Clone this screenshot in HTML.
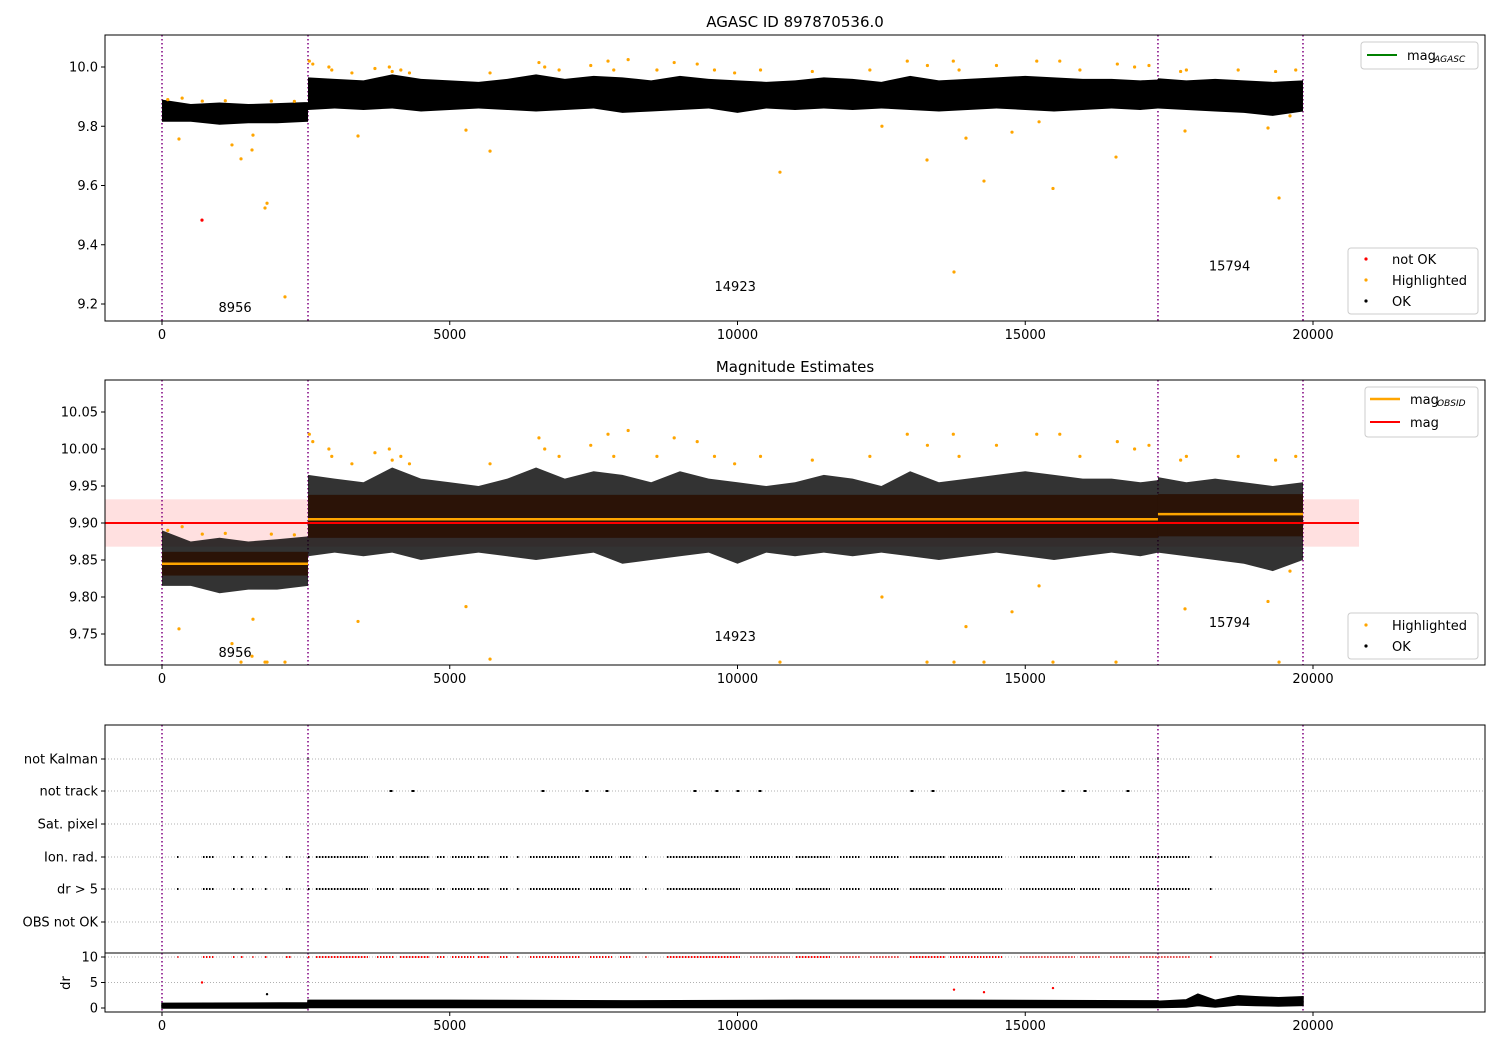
<!DOCTYPE html>
<html><head><meta charset="utf-8"><style>
body{margin:0;background:#fff}
svg{display:block;font-family:"DejaVu Sans","Liberation Sans",sans-serif}
</style></head><body>
<svg id="c" width="1500" height="1050" viewBox="0 0 1500 1050" xmlns="http://www.w3.org/2000/svg"></svg>
<script>
// ---- data ----
const obsBounds = [0, 2537, 17306, 19826];
const obsIds = ["8956", "14923", "15794"];
const obsMag = [9.845, 9.905, 9.912];
const obsStdLo = [9.829, 9.880, 9.882];
const obsStdHi = [9.861, 9.938, 9.939];
const magMean = 9.900;
const magLo = 9.868, magHi = 9.932;
const envX = [0,500,1000,1500,2000,2537, 2537,3000,3500,4000,4500,5000,5500,6000,6500,7000,7500,8000,8500,9000,9500,10000,10500,11000,11500,12000,12500,13000,13500,14000,14500,15000,15500,16000,16500,17000,17306, 17306,17800,18300,18800,19300,19826];
const envHi = [9.89,9.875,9.88,9.875,9.878,9.882, 9.965,9.96,9.955,9.975,9.96,9.955,9.95,9.96,9.975,9.96,9.97,9.965,9.955,9.97,9.96,9.955,9.95,9.955,9.965,9.96,9.95,9.97,9.955,9.96,9.965,9.97,9.965,9.96,9.96,9.955,9.958, 9.962,9.955,9.96,9.955,9.95,9.955];
const envLo = [9.815,9.815,9.805,9.81,9.81,9.815, 9.855,9.86,9.855,9.86,9.85,9.855,9.86,9.855,9.85,9.855,9.86,9.845,9.85,9.855,9.86,9.845,9.86,9.855,9.86,9.855,9.86,9.855,9.85,9.855,9.86,9.855,9.85,9.855,9.86,9.855,9.86, 9.86,9.855,9.85,9.845,9.835,9.85];
const hlX = [100,350,700,1100,1900,2300,2560,2620,2900,2950,3300,3700,3950,4000,4150,4300,5700,6550,6650,6900,7450,7750,7850,8100,8600,8900,9300,9600,9950,10400,11300,12300,12950,13300,13750,13850,14500,15200,15600,15950,16600,16900,17150,17700,17800,18700,19350,19700,
 295,1216,1373,1564,1581,1790,1825,2137,3406,5282,5700,10738,12510,13293,13762,13970,14283,14770,15240,15482,16577,17776,19218,19410,19600];
const hlMag = [9.89,9.895,9.885,9.886,9.885,9.884,10.02,10.01,10.0,9.99,9.98,9.995,10.0,9.985,9.99,9.98,9.98,10.015,10.0,9.99,10.005,10.02,9.99,10.025,9.99,10.015,10.01,9.99,9.98,9.99,9.985,9.99,10.02,10.005,10.02,9.99,10.005,10.02,10.02,9.99,10.01,10.0,10.005,9.985,9.99,9.99,9.985,9.99,
 9.757,9.737,9.69,9.72,9.77,9.524,9.54,9.224,9.767,9.787,9.716,9.645,9.80,9.686,9.308,9.76,9.615,9.78,9.815,9.59,9.696,9.784,9.794,9.558,9.835];
const notOkX = [695];
const notOkMag = [9.483];
const flagRanges = [[261,261],[712,921],[1234,1234],[1373,1373],[1564,1564],[1790,1790],[2155,2242],[2537,2537],[2676,3579],[3736,4049],[4135,4657],[4778,4917],[5039,5421],[5491,5699],[5873,6029],[6168,6168],[6394,7263],[7437,7819],[7958,8167],[8393,8393],[8775,10043],[10217,10912],[11016,11607],[11781,12128],[12302,12823],[12997,13605],[13692,14596],[14908,15864],[15951,16299],[16472,16820],[16993,17863],[18210,18210]];
const notTrackX = [3979,4361,6620,7385,7732,9261,9643,10008,10391,13032,13397,15656,16038,16785];
const categories = ["not Kalman","not track","Sat. pixel","Ion. rad.","dr > 5","OBS not OK"];
const drX = [0,2537,2537,5000,8000,11000,14000,17306,17306,17800,18000,18300,18700,19000,19400,19826];
const drHi = [0.9,1.0,1.5,1.5,1.4,1.5,1.5,1.4,1.3,1.6,2.7,1.5,2.4,2.2,2.0,2.2];
const drLo = [0,0,0.1,0.1,0.1,0.1,0.1,0.1,0.1,0.2,0.5,0.2,0.6,0.5,0.4,0.5];
const drOutX = [695,13762,14283,15482,1825];
const drOutV = [5.0,3.6,3.1,3.9,2.7];
const xTicks = [0,5000,10000,15000,20000];
const y1Ticks = [9.2,9.4,9.6,9.8,10.0];
const y2Ticks = [9.75,9.80,9.85,9.90,9.95,10.00,10.05];
const drTicks = [0,5,10];

// ---- scales ----
const L=105,R=1485;
const X=d=>162+d*0.05755;
const Y1=m=>67+(10-m)*296.25;
const Y2=m=>412+(10.05-m)*740;
const YD=v=>1008-v*5.1;
const catY=[759,791,824,857,889,922];
const svg=document.getElementById('c');
const NS='http://www.w3.org/2000/svg';
function mk(tag,at,parent,txt){const e=document.createElementNS(NS,tag);for(const k in at)e.setAttribute(k,at[k]);if(txt!==undefined)e.textContent=txt;(parent||svg).appendChild(e);return e;}

function clip(id,t,b){const d=mk('clipPath',{id:id});mk('rect',{x:L,y:t,width:R-L,height:b-t},d);}
clip('c1',35,321);clip('c2',380,665);clip('c3',953,1012);

function xAxis(bottom){
  xTicks.forEach(t=>{const g=mk('g',{});
    mk('line',{x1:X(t),x2:X(t),y1:bottom,y2:bottom+4,stroke:'#000'},g);
    mk('text',{x:X(t),y:bottom+18,'font-size':13,'text-anchor':'middle'},g,String(t));});
}
function yAxis(ticks,f,fmt){
  ticks.forEach(t=>{const g=mk('g',{});
    mk('line',{x1:L-4,x2:L,y1:f(t),y2:f(t),stroke:'#000'},g);
    mk('text',{x:L-7,y:f(t)+4.5,'font-size':13,'text-anchor':'end'},g,fmt(t));});
}
function vlines(t,b,g){obsBounds.forEach(d=>{const l=mk('line',{x1:X(d),x2:X(d),y1:t,y2:b,stroke:'#800080','stroke-width':1.5,'stroke-dasharray':'1.5,2.5'},g);});}
function envPath(f){let s='';for(let seg=0;seg<3;seg++){const idx=envX.map((x,i)=>i).filter(i=>envX[i]>=obsBounds[seg]&&envX[i]<=obsBounds[seg+1]&&(seg==0?i<6:seg==1?(i>=6&&i<37):i>=37));
  s+='M'+idx.map(i=>X(envX[i])+','+f(envHi[i])).join('L')+'L'+idx.slice().reverse().map(i=>X(envX[i])+','+f(envLo[i])).join('L')+'Z';}return s;}
function points(xs,ms,f,col,g,name){xs.forEach((x,i)=>{const c=mk('circle',{cx:X(x),cy:f(ms[i]),r:1.6,fill:col},g);});}
function frame(t,b,name){const r=mk('rect',{x:L,y:t,width:R-L,height:b-t,fill:'none',stroke:'#000','stroke-width':1});}
function legendBox(x,y,w,h){const r=mk('rect',{x:x,y:y,width:w,height:h,rx:3,fill:'#fff',stroke:'#ccc','fill-opacity':0.85});}

// ---- panel 1 ----
mk('text',{x:795,y:27,'font-size':15,'text-anchor':'middle',},null,'AGASC ID 897870536.0');
const g1=mk('g',{'clip-path':'url(#c1)',});
vlines(35,321,g1);
const e1=mk('path',{d:envPath(Y1),fill:'#000'},g1);
points(hlX,hlMag,Y1,'#ffa500',g1,'highlighted-point');
points(notOkX,notOkMag,Y1,'#ff0000',g1,'not-ok-point');
obsIds.forEach((t,i)=>{const yy=[9.19,9.26,9.33][i];mk('text',{x:X([1270,9960,18550][i]),y:Y1(yy)+5,'font-size':13,'text-anchor':'middle',},g1,t);});
frame(35,321,'axes-agasc');xAxis(321);yAxis(y1Ticks,Y1,t=>t.toFixed(1));
legendBox(1361,42,117,27);
mk('line',{x1:1367,x2:1397,y1:55,y2:55,stroke:'green','stroke-width':2,});
mk('text',{x:1407,y:60,'font-size':13},null,'mag');
mk('text',{x:1434,y:62,'font-size':9,'font-style':'italic'},null,'AGASC');
legendBox(1348,248,130,66);
[['#ff0000','not OK',259],['#ffa500','Highlighted',280],['#000','OK',301]].forEach(a=>{mk('circle',{cx:1366,cy:a[2],r:1.6,fill:a[0],});mk('text',{x:1392,y:a[2]+5,'font-size':13,},null,a[1]);});

// ---- panel 2 ----
mk('text',{x:795,y:372,'font-size':15,'text-anchor':'middle',},null,'Magnitude Estimates');
const g2=mk('g',{'clip-path':'url(#c2)',});
mk('rect',{x:X(-1000),y:Y2(magHi),width:X(20800)-X(-1000),height:Y2(magLo)-Y2(magHi),fill:'rgba(255,0,0,0.12)',},g2);
vlines(380,665,g2);
const e2=mk('path',{d:envPath(Y2),fill:'#000','fill-opacity':0.8},g2);
for(let i=0;i<3;i++){mk('rect',{x:X(obsBounds[i]),y:Y2(obsStdHi[i]),width:X(obsBounds[i+1])-X(obsBounds[i]),height:Y2(obsStdLo[i])-Y2(obsStdHi[i]),fill:'#000'},g2);}
points(hlX,hlMag.map(m=>Math.max(m,9.712)),Y2,'#ffa500',g2,'highlighted-point');
for(let i=0;i<3;i++){
  mk('rect',{x:X(obsBounds[i]),y:Y2(obsStdHi[i]),width:X(obsBounds[i+1])-X(obsBounds[i]),height:Y2(obsStdLo[i])-Y2(obsStdHi[i]),fill:'rgba(255,110,40,0.17)',},g2);
  mk('line',{x1:X(obsBounds[i]),x2:X(obsBounds[i+1]),y1:Y2(obsMag[i]),y2:Y2(obsMag[i]),stroke:'#ffa500','stroke-width':2.5,},g2);
}
mk('line',{x1:X(-1000),x2:X(20800),y1:Y2(magMean),y2:Y2(magMean),stroke:'#ff0000','stroke-width':2,},g2);
obsIds.forEach((t,i)=>{mk('text',{x:X([1270,9960,18550][i]),y:Y2([9.726,9.747,9.766][i])+5,'font-size':13,'text-anchor':'middle',},g2,t);});
frame(380,665,'axes-estimates');xAxis(665);yAxis(y2Ticks,Y2,t=>t.toFixed(2));
legendBox(1365,387,113,50);
mk('line',{x1:1370,x2:1400,y1:399,y2:399,stroke:'#ffa500','stroke-width':2.5,});
mk('text',{x:1410,y:404,'font-size':13},null,'mag');mk('text',{x:1437,y:406,'font-size':9,'font-style':'italic'},null,'OBSID');
mk('line',{x1:1370,x2:1400,y1:422,y2:422,stroke:'#ff0000','stroke-width':2,});
mk('text',{x:1410,y:427,'font-size':13},null,'mag');
legendBox(1348,613,130,46);
[['#ffa500','Highlighted',625],['#000','OK',646]].forEach(a=>{mk('circle',{cx:1366,cy:a[2],r:1.6,fill:a[0]});mk('text',{x:1392,y:a[2]+5,'font-size':13,},null,a[1]);});

// ---- panel 3 flags ----
const g3=mk('g',{});
catY.forEach((y,i)=>{mk('line',{x1:L,x2:R,y1:y,y2:y,stroke:'#b0b0b0','stroke-dasharray':'1,2','stroke-width':1},g3);
  const t=mk('text',{x:L-7,y:y+4.5,'font-size':13,'text-anchor':'end'},g3,categories[i]);
  mk('line',{x1:L-4,x2:L,y1:y,y2:y,stroke:'#000'},g3);});
vlines(725,1012,g3);
function flagRow(y,col,name){flagRanges.forEach(r=>{const x1=X(r[0]),x2=Math.max(X(r[1]),x1+1.5);const l=mk('line',{x1:x1,x2:x2,y1:y,y2:y,stroke:col,'stroke-width':2,'stroke-dasharray':'1.5,1.5'},g3);});}
flagRow(catY[3],'#000','ion-rad-flag');flagRow(catY[4],'#000','dr-flag');flagRow(YD(10),'#ff0000','dr-clipped');
notTrackX.forEach(x=>{const l=mk('line',{x1:X(x)-1.5,x2:X(x)+1.5,y1:catY[1],y2:catY[1],stroke:'#000','stroke-width':2},g3);});
[2537,17306].forEach(x=>{mk('circle',{cx:X(x),cy:catY[0],r:1,fill:'#555',},g3);});
mk('rect',{x:L,y:725,width:R-L,height:228,fill:'none',stroke:'#000',});
// dr subpanel
const gd=mk('g',{'clip-path':'url(#c3)',});
[5,10].forEach(v=>mk('line',{x1:L,x2:R,y1:YD(v),y2:YD(v),stroke:'#b0b0b0','stroke-dasharray':'1,2'},gd));
const dp='M'+drX.map((x,i)=>X(x)+','+YD(drHi[i])).join('L')+'L'+drX.map((x,i)=>i).reverse().map(i=>X(drX[i])+','+YD(drLo[i])).join('L')+'Z';
mk('path',{d:dp,fill:'#000',stroke:'#000','stroke-width':1.5,},gd);
drOutX.forEach((x,i)=>{const c=mk('circle',{cx:X(x),cy:YD(drOutV[i]),r:1.2,fill:i<4?'#ff0000':'#000'},gd);});
mk('line',{x1:L,x2:R,y1:953,y2:953,stroke:'#000'});
frame(953,1012,'axes-dr');xAxis(1012);yAxis(drTicks,YD,t=>String(t));
mk('text',{x:70,y:983,'font-size':13,'text-anchor':'middle',transform:'rotate(-90 70 983)',},null,'dr');
</script>
</body></html>
